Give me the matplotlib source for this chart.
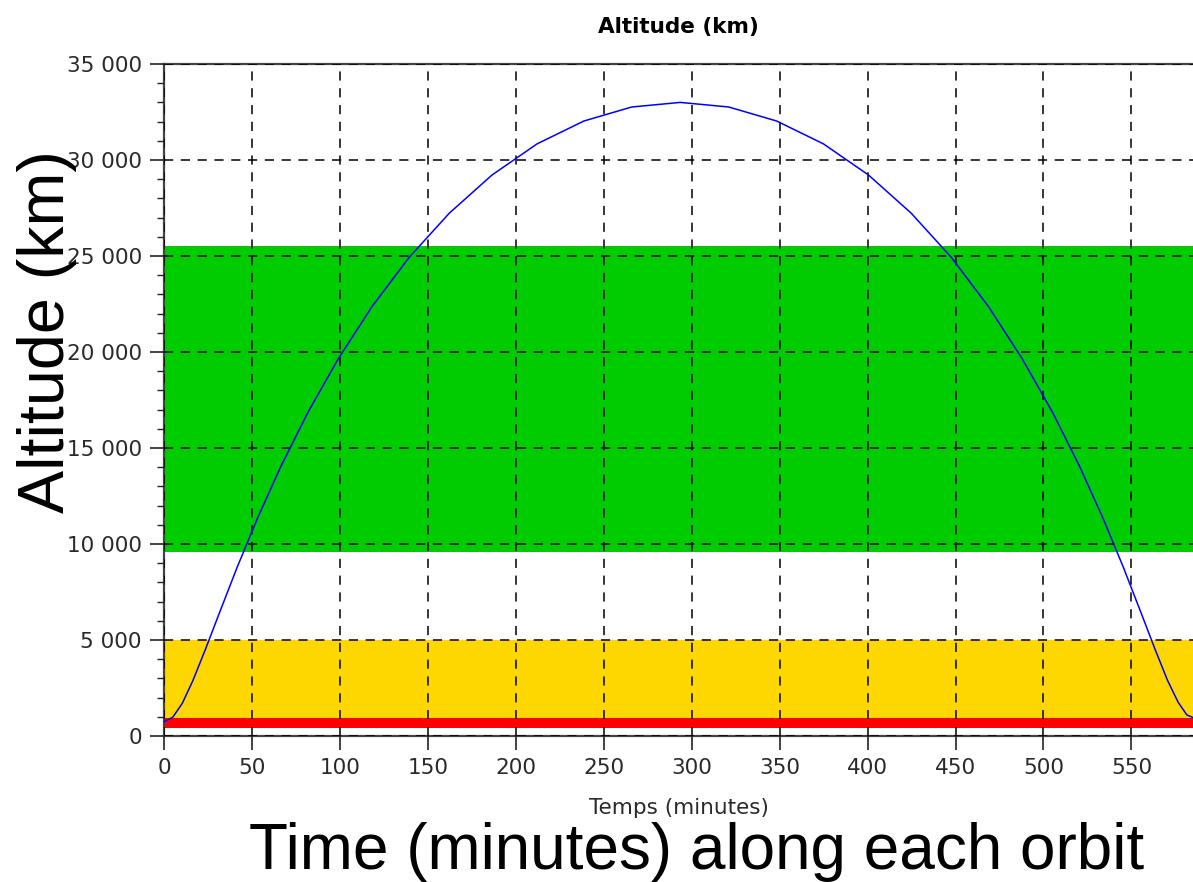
"""Altitude along one orbit, with coloured altitude bands."""
import matplotlib
matplotlib.use("Agg")
import matplotlib.pyplot as plt
from matplotlib.ticker import FuncFormatter, MultipleLocator

# time (minutes) and altitude (km)
time_min = [0, 5, 10.4, 16.4, 23.5, 31.8, 41.6, 53.1, 66.5, 81.8, 99.1,
            118.3, 139.4, 162.2, 186.5, 212.1, 238.7, 265.9, 293.5,
            321.1, 348.3, 374.9, 400.5, 424.8, 447.6, 468.7, 487.9,
            505.2, 520.5, 533.9, 545.4, 555.2, 563.5, 570.6, 576.6,
            581.5, 585]
altitude_km = [740, 980, 1700, 2880, 4500, 6480, 8790, 11330, 14050,
               16850, 19650, 22370, 24930, 27230, 29220, 30840, 32030,
               32760, 33000, 32760, 32030, 30840, 29220, 27230, 24930,
               22370, 19650, 16850, 14050, 11330, 8790, 6480, 4500,
               2880, 1750, 1100, 960]

# altitude bands (km): bottom, top, colour
band_bottom = [430, 920, 9600]
band_top = [920, 5000, 25500]
band_color = ["#ff0000", "#ffd700", "#00cc00"]

X_MAX = 585
Y_MAX = 35000

fig = plt.figure(figsize=(11.93, 8.82), dpi=100)
ax = fig.add_axes([164 / 1193, 1 - 736 / 882, 1 - 164 / 1193, (736 - 64) / 882])

for lo, hi, col in zip(band_bottom, band_top, band_color):
    ax.axhspan(lo, hi, color=col, lw=0, zorder=1)

ax.plot(time_min, altitude_km, color="#0000ff", lw=1.1, zorder=3)

ax.set_xlim(0, X_MAX)
ax.set_ylim(0, Y_MAX)
ax.xaxis.set_major_locator(MultipleLocator(50))
ax.yaxis.set_major_locator(MultipleLocator(5000))
ax.yaxis.set_minor_locator(MultipleLocator(1000))
ax.yaxis.set_major_formatter(FuncFormatter(lambda v, _: f"{int(v):,}".replace(",", " ")))

ax.grid(True, which="major", color="black", lw=1.1, ls=(0, (6, 5)), zorder=2)
ax.set_axisbelow(False)

for side in ("top", "bottom", "left"):
    ax.spines[side].set_color("#444444")
    ax.spines[side].set_linewidth(1.6)
ax.spines["right"].set_visible(False)
ax.tick_params(which="major", direction="out", length=10, width=1.2, color="#222222",
               labelsize=15.5, labelcolor="#2a2a2a", pad=6)
ax.tick_params(which="minor", direction="out", length=5, width=1.0, color="#222222")
ax.tick_params(top=False, right=False)

ax.set_title("Altitude (km)", fontsize=15.5, fontweight="bold", pad=22)
ax.set_xlabel("Temps (minutes)", fontsize=15.5, color="#2a2a2a", labelpad=14)

fig.text(47 / 1193, 1 - 332 / 882, "Altitude (km)", rotation=90, fontsize=46.5,
         family="Liberation Sans", ha="center", va="center", zorder=10)
fig.text(697 / 1193, 1 - 852 / 882, "Time (minutes) along each orbit", fontsize=46,
         family="Liberation Sans", ha="center", va="center")

fig.savefig("out.png", dpi=100)
plt.close(fig)
